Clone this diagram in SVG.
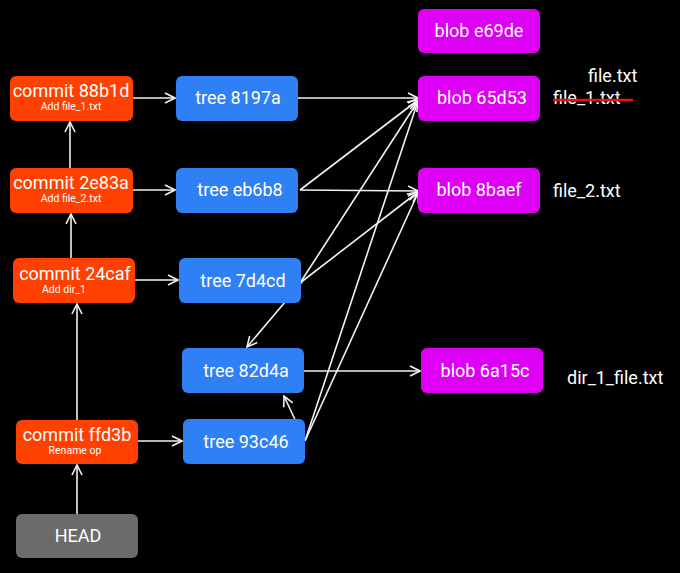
<svg xmlns="http://www.w3.org/2000/svg" width="680" height="573" viewBox="0 0 680 573">
<style>
text{font-family:Roboto,"Liberation Sans",sans-serif;fill:#fff;text-anchor:middle}
.c{fill:#ff4000}.t{fill:#2f7ff5}.b{fill:#dd00f5}.h{fill:#6b6b6b}
.m{font-size:18px}.k{font-size:18px}.s{font-size:10.5px}.l{font-size:18px;text-anchor:start}
.e{stroke:#f2f2f2;stroke-width:1.6;fill:none;marker-end:url(#a)}
</style>
<defs><marker id="a" viewBox="0 0 12 12" refX="11" refY="6" markerWidth="12" markerHeight="12" markerUnits="userSpaceOnUse" orient="auto"><path d="M1,1 L11,6 L1,11" fill="none" stroke="#f2f2f2" stroke-width="1.6"/></marker></defs>
<rect width="680" height="573" fill="#000"/>
<g id="connectors">
<line class="e" x1="70" y1="168" x2="70" y2="122"/>
<line class="e" x1="71" y1="258" x2="71" y2="214"/>
<line class="e" x1="77" y1="420" x2="77" y2="304"/>
<line class="e" x1="77" y1="514" x2="77" y2="465"/>
<line class="e" x1="133" y1="98" x2="175" y2="98"/>
<line class="e" x1="133" y1="190" x2="175" y2="190"/>
<line class="e" x1="135" y1="280" x2="178" y2="280"/>
<line class="e" x1="138" y1="441" x2="182" y2="441"/>
<line class="e" x1="298" y1="98" x2="418" y2="98"/>
<line class="e" x1="300" y1="190" x2="418" y2="100"/>
<line class="e" x1="300" y1="190" x2="418" y2="191"/>
<line class="e" x1="300" y1="283" x2="418" y2="101"/>
<line class="e" x1="300" y1="283" x2="418" y2="192"/>
<line class="e" x1="302" y1="282" x2="247" y2="347"/>
<line class="e" x1="304" y1="371" x2="420" y2="371"/>
<line class="e" x1="305" y1="441" x2="284" y2="396"/>
<line class="e" x1="305" y1="441" x2="418" y2="101"/>
<line class="e" x1="305" y1="441" x2="418" y2="193"/>
</g>
<g id="commit-88b1d"><rect class="c" x="10" y="76" width="123" height="45" rx="6"/><text class="k" x="71" y="97">commit 88b1d</text><text class="s" x="71" y="110">Add file_1.txt</text></g>
<g id="commit-2e83a"><rect class="c" x="10" y="168" width="123" height="45" rx="6"/><text class="k" x="71" y="189">commit 2e83a</text><text class="s" x="71" y="202">Add file_2.txt</text></g>
<g id="commit-24caf"><rect class="c" x="13" y="258" width="122" height="45" rx="6"/><text class="k" x="75" y="280">commit 24caf</text><text class="s" x="64" y="293">Add dir_1</text></g>
<g id="commit-ffd3b"><rect class="c" x="16" y="420" width="122" height="44" rx="6"/><text class="k" x="77" y="441">commit ffd3b</text><text class="s" x="75" y="454">Rename op</text></g>
<g id="head"><rect class="h" x="16" y="514" width="122" height="44" rx="6"/><text class="m" x="78" y="542">HEAD</text></g>
<g id="tree-8197a"><rect class="t" x="176" y="76" width="122" height="45" rx="6"/><text class="m" x="238" y="104">tree 8197a</text></g>
<g id="tree-eb6b8"><rect class="t" x="176" y="168" width="122" height="45" rx="6"/><text class="m" x="240" y="196">tree eb6b8</text></g>
<g id="tree-7d4cd"><rect class="t" x="179" y="258" width="122" height="45" rx="6"/><text class="m" x="243" y="287">tree 7d4cd</text></g>
<g id="tree-82d4a"><rect class="t" x="182" y="348" width="122" height="45" rx="6"/><text class="m" x="246" y="377">tree 82d4a</text></g>
<g id="tree-93c46"><rect class="t" x="183" y="419" width="122" height="45" rx="6"/><text class="m" x="246" y="448">tree 93c46</text></g>
<g id="blob-e69de"><rect class="b" x="418" y="9" width="122" height="44" rx="6"/><text class="m" x="479" y="37">blob e69de</text></g>
<g id="blob-65d53"><rect class="b" x="418" y="76" width="122" height="45" rx="6"/><text class="m" x="482" y="104">blob 65d53</text></g>
<g id="blob-8baef"><rect class="b" x="418" y="168" width="122" height="45" rx="6"/><text class="m" x="479" y="196">blob 8baef</text></g>
<g id="blob-6a15c"><rect class="b" x="421" y="348" width="122" height="45" rx="6"/><text class="m" x="485" y="377">blob 6a15c</text></g>
<g id="labels">
<text class="l" x="588" y="82">file.txt</text>
<text class="l" x="553" y="104">file_1.txt</text>
<line x1="553" y1="100" x2="633" y2="100" stroke="#e8120c" stroke-width="2.5"/>
<text class="l" x="553" y="197">file_2.txt</text>
<text class="l" x="567" y="384">dir_1_file.txt</text>
</g>
</svg>
